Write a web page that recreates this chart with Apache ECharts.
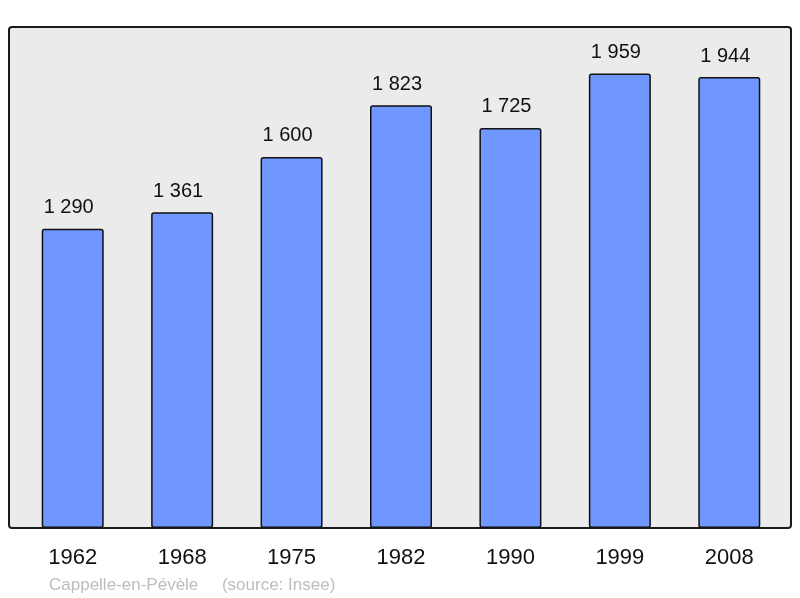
<!DOCTYPE html>
<html>
<head>
<meta charset="utf-8">
<script src="https://cdn.jsdelivr.net/npm/echarts@6/dist/echarts.min.js"></script>
<style>
  html, body { margin: 0; padding: 0; background: #fff; }
  #main { width: 800px; height: 598px; }
</style>
</head>
<body>
<div id="main"></div>
<script>
var years = ['1962', '1968', '1975', '1982', '1990', '1999', '2008'];
var population = [1290, 1361, 1600, 1823, 1725, 1959, 1944];
var footer = 'Cappelle-en-Pévèle     (source: Insee)';

function fmt(v) {
    return String(v).replace(/\B(?=(\d{3})+(?!\d))/g, ' ');
}

var chart = echarts.init(document.getElementById('main'));
var option = {
    animation: false,
    textStyle: { fontFamily: 'Liberation Sans, Arial, sans-serif' },
    graphic: [
        {
            type: 'rect',
            z: -10,
            shape: { x: 9, y: 27, width: 782, height: 501, r: 3 },
            style: { fill: '#ebebeb', stroke: '#1a1a1a', lineWidth: 2 }
        },
        {
            type: 'text',
            left: 49,
            top: 577,
            style: {
                text: footer,
                fill: '#bdbdbd',
                font: '17px "Liberation Sans", Arial, sans-serif'
            }
        }
    ],
    grid: {
        left: 18,
        right: 16,
        top: 27,
        bottom: 70,
        containLabel: false
    },
    xAxis: {
        type: 'category',
        data: years,
        axisLine: { show: false },
        axisTick: { show: false },
        axisLabel: {
            color: '#111',
            fontSize: 22,
            margin: 19
        }
    },
    yAxis: {
        type: 'value',
        min: 0,
        max: 2160,
        show: false,
        splitLine: { show: false }
    },
    series: [{
        type: 'bar',
        data: population,
        barWidth: 62,
        itemStyle: {
            color: '#7097ff',
            borderColor: '#111',
            borderWidth: 1.5,
            borderRadius: 2
        },
        label: {
            show: true,
            position: 'top',
            distance: 11,
            offset: [-4, 0],
            color: '#111',
            fontSize: 20,
            formatter: function (p) { return fmt(p.value); }
        }
    }]
};
chart.setOption(option);
</script>
</body>
</html>
